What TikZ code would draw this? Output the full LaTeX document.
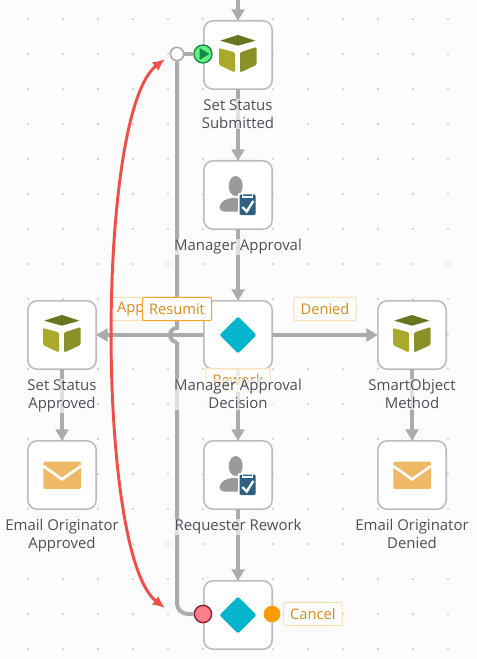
\documentclass[tikz,border=0pt]{standalone}
\usepackage{fontspec}
\setmainfont{Open Sans}
\usepackage{xcolor}
\usetikzlibrary{positioning,arrows.meta}
\definecolor{canvasbg}{HTML}{FCFCFC}
\definecolor{griddot}{HTML}{D6D6D6}
\definecolor{flowgrey}{HTML}{ABABAB}
\definecolor{boxedge}{HTML}{BDBDBD}
\definecolor{captiontext}{HTML}{4B5058}
\definecolor{linetext}{HTML}{D28A1E}
\definecolor{lineedge}{HTML}{FCE0B4}
\definecolor{activeedge}{HTML}{F5A623}
\definecolor{linkred}{HTML}{EE4F47}
\definecolor{cubetop}{HTML}{6B7520}
\definecolor{cubeleft}{HTML}{A9A92B}
\definecolor{cuberight}{HTML}{8B9128}
\definecolor{decisioncyan}{HTML}{00B5CC}
\definecolor{mailyellow}{HTML}{EDB965}
\definecolor{usergrey}{HTML}{9A9A9A}
\definecolor{clipblue}{HTML}{2F5F82}
\definecolor{startfill}{HTML}{66F07F}
\definecolor{startedge}{HTML}{0F8A4A}
\definecolor{failfill}{HTML}{FF7F8A}
\definecolor{failedge}{HTML}{8B1A30}
\definecolor{cancelfill}{HTML}{FF9A00}
\tikzset{
    cubeicon/.pic={
        \fill[cubetop, rounded corners=0.5pt] (-18,-14.3) -- (0,-20) -- (17.5,-14.3) -- (0,-9.3) -- cycle;
        \fill[cubeleft, rounded corners=1pt] (-19,-7) -- (-3,-2.5) -- (-3,17.5) -- (-19,10) -- cycle;
        \fill[cuberight, rounded corners=1pt] (2,-2.5) -- (18.5,-8) -- (18.5,10) -- (2,17.5) -- cycle;
    },
    usericon/.pic={
        \fill[usergrey] (-2.3,-9) ellipse (7 and 10);
        \fill[usergrey, rounded corners=3pt] (-18.3,16.5) -- (-18.3,8) -- (-9,3) -- (3,3) -- (3,16.5) -- cycle;
        \fill[white, rounded corners=1pt] (0,-2) rectangle (19,21.5);
        \fill[clipblue, rounded corners=1pt] (1.5,-0.5) rectangle (17.7,20);
        \draw[white, line width=0.8pt] (4.5,-2.5) rectangle (14.5,2);
        \draw[white, line width=1.8pt] (4.3,12) -- (8.7,16.5) -- (15.3,6);
    },
    mailicon/.pic={
        \fill[mailyellow, rounded corners=1pt] (-18.7,-13.3) rectangle (19,14);
        \draw[white, line width=2pt] (-18.7,-9) -- (0,4.3) -- (19,-9);
    },
    diamondicon/.pic={
        \fill[decisioncyan, rounded corners=1.5pt] (-18.5,0) -- (0,-18.5) -- (18.5,0) -- (0,18.5) -- cycle;
    }
}
\begin{document}
\begin{tikzpicture}[
    x=0.75pt, y=-0.75pt,
    node distance=53.7pt,
    stepbox/.style={draw=boxedge, line width=1.2pt, fill=white, minimum size=51.3pt, rounded corners=7pt, inner sep=0pt, outer sep=0pt},
    caption/.style={font=\fontsize{11.2}{13.5}\selectfont, text=captiontext, align=center, fill=canvasbg, fill opacity=0.65, text opacity=1, inner sep=0.5pt, below=7pt of #1},
    linelabel/.style={draw=lineedge, line width=0.8pt, fill=white, fill opacity=0.8, text opacity=1, text=linetext, rounded corners=1.5pt, font=\fontsize{11}{12}\selectfont, minimum height=17.5pt, inner xsep=5pt, inner ysep=0pt},
    flow/.style={draw=flowgrey, line width=2.4pt, -{Triangle[length=8.5pt, width=9.5pt]}},
    flowplain/.style={draw=flowgrey, line width=3pt},
    link/.style={draw=linkred, line width=2.2pt, {Latex[length=9pt, width=8pt]}-{Latex[length=9pt, width=8pt]}}
]
    \useasboundingbox (0,0) rectangle (477,659);
    \fill[canvasbg] (0,0) rectangle (477,659);
    % dotted canvas
    \foreach \gx in {28,63,...,483}
        \foreach \gy in {19,54,...,649}
            \fill[griddot] (\gx-0.7,\gy-0.7) rectangle (\gx+0.7,\gy+0.7);

    \coordinate (entry) at (238,0);
    \node[stepbox] (submitted) at (238,55) {};
    \node[stepbox, below=of submitted] (manager) {};
    \node[stepbox, below=of manager] (decision) {};
    \node[stepbox, below=of decision] (rework) {};
    \node[stepbox, below=of rework] (finish) {};
    \node[stepbox, left=80.7pt of decision] (approved) {};
    \node[stepbox, below=of approved] (mailok) {};
    \node[stepbox, right=79.2pt of decision] (smartobj) {};
    \node[stepbox, below=of smartobj] (maildenied) {};

    \pic at (submitted) {cubeicon};
    \pic at (manager) {usericon};
    \pic at (decision) {diamondicon};
    \pic at (rework) {usericon};
    \pic at (finish) {diamondicon};
    \pic at (approved) {cubeicon};
    \pic at (mailok) {mailicon};
    \pic at (smartobj) {cubeicon};
    \pic at (maildenied) {mailicon};

    \node[circle, draw=flowgrey, line width=1.2pt, fill=white, minimum size=10pt, inner sep=0pt] (resumedot) at (177,54) {};
    \node[circle, draw=startedge, line width=1pt, fill=startfill, minimum size=13.5pt, inner sep=0pt] (startport) at (203,54) {};
    \node[circle, draw=failedge, line width=1pt, fill=failfill, minimum size=13pt, inner sep=0pt] (failport) at (203,614) {};
    \node[circle, fill=cancelfill, minimum size=12.5pt, inner sep=0pt] (cancelport) at (272,614) {};
    \fill[startedge] (199.5,48) -- (209.5,54) -- (199.5,60) -- cycle;

    \coordinate (bumptop) at (177,328);
    \coordinate (bumpend) at (177,342);

    \draw[flow] (entry) -- (submitted);
    \draw[flow] (submitted) -- (manager);
    \draw[flow] (manager) -- (decision);
    \draw[flow] (decision) -- (rework);
    \draw[flow] (rework) -- (finish);
    \draw[flow] (decision) -- (approved);
    \draw[flow] (approved) -- (mailok);
    \draw[flow] (decision) -- (smartobj);
    \draw[flow] (smartobj) -- (maildenied);

    \draw[flowplain] (resumedot) -- (startport);
    \draw[flowplain] (resumedot) -- (bumptop) arc[start angle=-90, end angle=-270, radius=7];
    \draw[flowplain, rounded corners=8pt] (bumpend) |- (failport);

    \node[linelabel, anchor=west] (lblapproved) at (110,309) {Approved};
    \node[linelabel] (lbldenied) at (325,309) {Denied};
    \node[linelabel] (lblrework) at (238,380) {Rework};
    \node[linelabel, anchor=west] (lblcancel) at (283,614) {Cancel};
    \node[linelabel, draw=activeedge, fill opacity=1] (lblresumit) at (177,309) {Resumit};

    \node[caption=submitted] (capsubmitted) {Set Status\\Submitted};
    \node[caption=manager] (capmanager) {Manager Approval};
    \node[caption=decision] (capdecision) {Manager Approval\\Decision};
    \node[caption=rework] (caprework) {Requester Rework};
    \node[caption=approved] (capapproved) {Set Status\\Approved};
    \node[caption=mailok] (capmailok) {Email Originator\\Approved};
    \node[caption=smartobj] (capsmartobj) {SmartObject\\Method};
    \node[caption=maildenied] (capmaildenied) {Email Originator\\Denied};

    \node[circle, draw=none, fill=none, inner sep=0pt, minimum size=0pt] (linktop) at (165,59) {};
    \node[circle, draw=none, fill=none, inner sep=0pt, minimum size=0pt] (linkbottom) at (165,608) {};
    \draw[link] (linktop) .. controls (96,112) and (96,555) .. (linkbottom);
\end{tikzpicture}
\end{document}
